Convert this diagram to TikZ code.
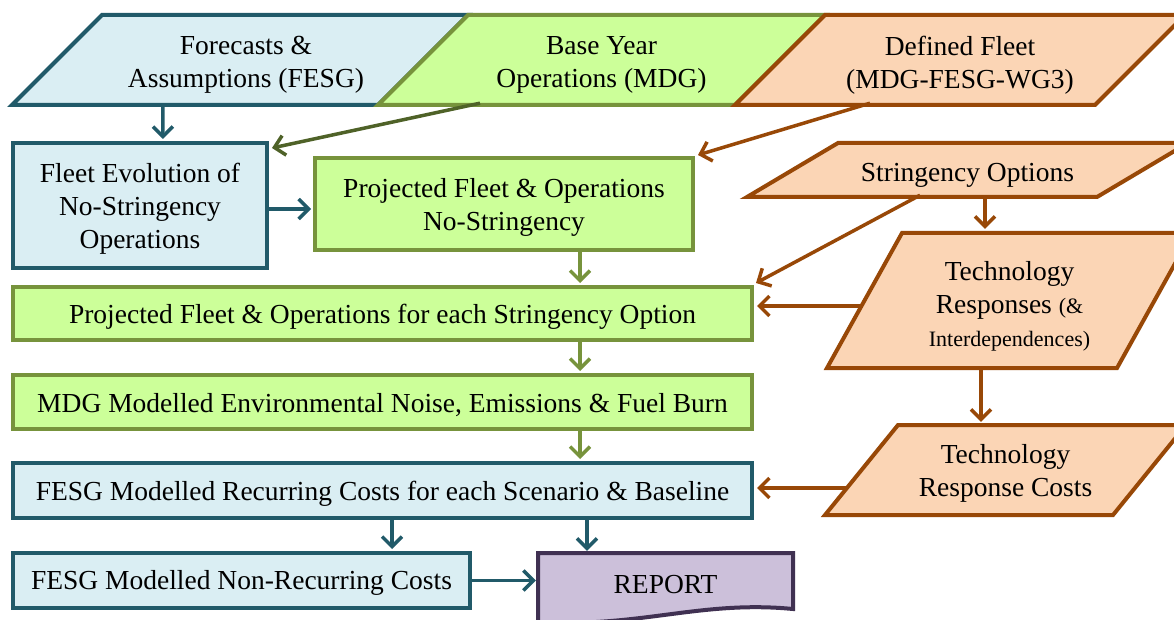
\documentclass[tikz,border=0pt]{standalone}
\usepackage{fontspec}
\setmainfont{Liberation Serif}
\usetikzlibrary{arrows.meta,calc}
\definecolor{blueFill}{HTML}{DAEEF3}
\definecolor{blueLine}{HTML}{215A69}
\definecolor{greenFill}{HTML}{CCFF99}
\definecolor{greenLine}{HTML}{77933C}
\definecolor{darkGreen}{HTML}{4F6228}
\definecolor{orangeFill}{HTML}{FBD5B5}
\definecolor{orangeLine}{HTML}{984807}
\definecolor{purpleFill}{HTML}{CCC0DA}
\definecolor{purpleLine}{HTML}{403152}
\tikzset{
  txt/.style={font=\fontsize{27.5}{33}\selectfont, align=center, inner sep=0pt},
  frame/.style={rectangle, line width=4pt, inner sep=0pt},
  bluebox/.style={frame, draw=blueLine, fill=blueFill},
  greenbox/.style={frame, draw=greenLine, fill=greenFill},
  blueshape/.style={line width=4pt, draw=blueLine, fill=blueFill, line join=miter},
  greenshape/.style={line width=4pt, draw=greenLine, fill=greenFill, line join=miter},
  orangeshape/.style={line width=4pt, draw=orangeLine, fill=orangeFill, line join=miter},
  purpleshape/.style={line width=4pt, draw=purpleLine, fill=purpleFill, line join=miter},
  holder/.style={rectangle, draw=none, inner sep=0pt},
  arr/.style={line width=3.5pt, -{Straight Barb[length=10pt,width=20pt]}},
  barr/.style={arr, draw=blueLine},
  garr/.style={arr, draw=greenLine},
  dgarr/.style={arr, draw=darkGreen},
  oarr/.style={arr, draw=orangeLine},
}
\begin{document}
\begin{tikzpicture}[x=1pt,y=-1pt]
\useasboundingbox (0,0) rectangle (1174,620);
\clip (0,0) rectangle (1174,620);
% top row parallelograms
\draw[blueshape] (12,105) -- (102,15) -- (468,15) -- (378,105) -- cycle;
\draw[greenshape] (378,105) -- (468,15) -- (825,15) -- (735,105) -- cycle;
\draw[orangeshape] (735,105) -- (825,15) -- (1185,15) -- (1095,105) -- cycle;
\node[holder, minimum width=456pt, minimum height=90pt,
  label={[txt, xshift=6pt, yshift=-5pt]center:{Forecasts \&\\Assumptions (FESG)}}] (F) at (240,60) {};
\node[holder, minimum width=447pt, minimum height=90pt,
  label={[txt, yshift=-5pt]center:{Base Year\\Operations (MDG)}}] (B) at (601.5,60) {};
\node[holder, minimum width=450pt, minimum height=90pt,
  label={[txt, yshift=-5pt]center:{Defined Fleet\\(MDG-FESG-WG3)}}] (D) at (960,60) {};
% right side parallelograms
\draw[orangeshape] (747,197) -- (838,143) -- (1188,143) -- (1097,197) -- cycle;
\node[holder, minimum width=441pt, minimum height=54pt,
  label={[txt, yshift=-5pt]center:{Stringency Options}}] (SO) at (967.5,170) {};
\draw[orangeshape] (827,368) -- (902,233) -- (1192,233) -- (1117,368) -- cycle;
\node[holder, minimum width=365pt, minimum height=135pt,
  label={[txt, yshift=-5.5pt]center:{Technology\\Responses {\fontsize{22}{30}\selectfont(\&}\\{\fontsize{22}{30}\selectfont Interdependences)}}}] (TR) at (1009.5,300.5) {};
\draw[orangeshape] (825,515) -- (898,425) -- (1186,425) -- (1113,515) -- cycle;
\node[holder, minimum width=361pt, minimum height=90pt,
  label={[txt, yshift=-3.5pt]center:{Technology\\Response Costs}}] (TC) at (1005.5,470) {};
% rectangles
\node[bluebox, minimum width=254pt, minimum height=125pt,
  label={[txt, yshift=-3.5pt]center:{Fleet Evolution of\\No-Stringency\\Operations}}] (FE) at (140,205.5) {};
\node[greenbox, minimum width=378pt, minimum height=92pt,
  label={[txt, yshift=-3.5pt]center:{Projected Fleet \& Operations\\No-Stringency}}] (PN) at (504,204) {};
\node[greenbox, minimum width=739pt, minimum height=53pt,
  label={[txt, yshift=-3pt]center:{Projected Fleet \& Operations for each Stringency Option}}] (PE) at (382.5,313.5) {};
\node[greenbox, minimum width=739pt, minimum height=54pt,
  label={[txt, yshift=-3.5pt]center:{MDG Modelled Environmental Noise, Emissions \& Fuel Burn}}] (MDG) at (382.5,402) {};
\node[bluebox, minimum width=739pt, minimum height=55pt,
  label={[txt, yshift=-3.5pt]center:{FESG Modelled Recurring Costs for each Scenario \& Baseline}}] (FR) at (382.5,490.5) {};
\node[bluebox, minimum width=457pt, minimum height=55pt,
  label={[txt, yshift=-2.5pt]center:{FESG Modelled Non-Recurring Costs}}] (NR) at (241.5,580.5) {};
% report
\draw[purpleshape] (538,628) -- (538,553) -- (793,553) -- (793,609) .. controls (700,600) and (640,628) .. (538,622);
\node[holder, minimum width=255pt, minimum height=62pt,
  label={[txt, yshift=-1pt]center:{REPORT}}] (RP) at (665.5,584) {};
% connectors
\draw[barr] ($(F.south west)+(151,-2)$) -- ($(FE.north)+(23,-2)$);
\draw[dgarr] ($(B.south)+(-121.5,-2)$) -- ($(FE.north east)+(3,7)$);
\draw[oarr] ($(D.south)+(-90,-2)$) -- ($(PN.north east)+(3,-1)$);
\draw[barr] ($(FE.east)+(0,3.5)$) -- ($(PN.west)+(-2,5)$);
\draw[garr] ($(PN.south)+(76,0)$) -- ($(PE.north)+(197.5,-2)$);
\draw[oarr] ($(SO.south)+(-47.5,-2)$) -- ($(PE.north east)+(2,-2)$);
\draw[oarr] ($(SO.south)+(17.5,-2)$) -- ($(TR.north)+(-24.5,-4)$);
\draw[oarr] ($(TR.west)+(34,5.5)$) -- ($(PE.east)+(3,-7.5)$);
\draw[garr] ($(PE.south)+(197.5,0)$) -- ($(MDG.north)+(197.5,-2)$);
\draw[oarr] ($(TR.south)+(-28.5,-1.5)$) -- ($(TC.north)+(-24.5,-3)$);
\draw[garr] ($(MDG.south)+(197.5,0)$) -- ($(FR.north)+(197.5,-2)$);
\draw[oarr] ($(TC.west)+(22,18)$) -- ($(FR.east)+(3,-2.5)$);
\draw[barr] ($(FR.south)+(9.5,0)$) -- ($(NR.north)+(150.5,-2)$);
\draw[barr] ($(FR.south)+(204.5,0)$) -- ($(RP.north)+(-78.5,-2)$);
\draw[barr] (NR.east) -- ($(RP.west |- NR.east)+(-2,0)$);
\end{tikzpicture}
\end{document}
